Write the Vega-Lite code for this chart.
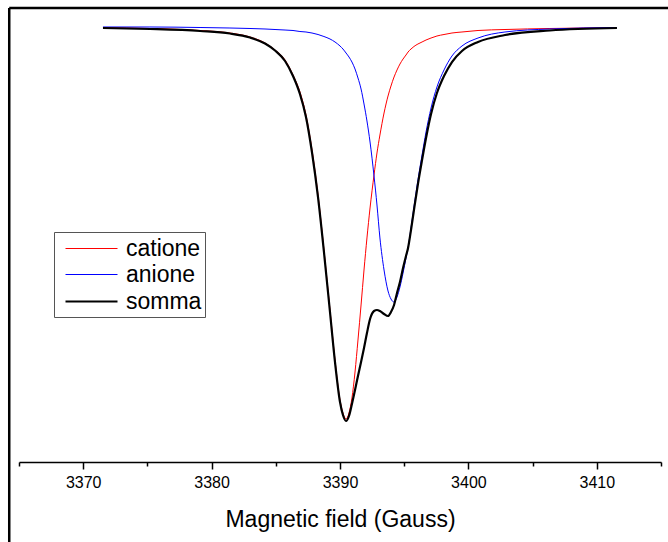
{
  "$schema": "https://vega.github.io/schema/vega-lite/v6.json",
  "width": 642,
  "height": 454,
  "autosize": {"type": "none"},
  "padding": {"left": 19, "top": 8, "right": 7, "bottom": 80},
  "background": "white",
  "config": {"view": {"stroke": null}, "font": "Liberation Sans"},
  "datasets": {
    "spectra": [
      {"B": 3371.54, "catione": 0, "anione": 0.0013, "somma": -0.0013},
      {"B": 3375.20, "catione": -0.0025, "anione": 0.0013, "somma": -0.0038},
      {"B": 3379.10, "catione": -0.0076, "anione": 0, "somma": -0.0089},
      {"B": 3381.43, "catione": -0.0140, "anione": -0.0013, "somma": -0.0152},
      {"B": 3382.99, "catione": -0.0241, "anione": -0.0025, "somma": -0.0254},
      {"B": 3384.16, "catione": -0.0394, "anione": -0.0038, "somma": -0.0407},
      {"B": 3384.94, "catione": -0.0572, "anione": -0.0051, "somma": -0.0584},
      {"B": 3385.72, "catione": -0.0826, "anione": -0.0064, "somma": -0.0851},
      {"B": 3386.34, "catione": -0.1207, "anione": -0.0076, "somma": -0.1233},
      {"B": 3386.88, "catione": -0.1639, "anione": -0.0102, "somma": -0.1690},
      {"B": 3387.35, "catione": -0.2224, "anione": -0.0114, "somma": -0.2274},
      {"B": 3387.82, "catione": -0.3113, "anione": -0.0140, "somma": -0.3177},
      {"B": 3388.29, "catione": -0.4257, "anione": -0.0178, "somma": -0.4320},
      {"B": 3388.75, "catione": -0.5654, "anione": -0.0229, "somma": -0.5705},
      {"B": 3389.22, "catione": -0.7179, "anione": -0.0292, "somma": -0.7230},
      {"B": 3389.61, "catione": -0.8450, "anione": -0.0368, "somma": -0.8501},
      {"B": 3390.00, "catione": -0.9466, "anione": -0.0470, "somma": -0.9517},
      {"B": 3390.23, "catione": -0.9797, "anione": -0.0546, "somma": -0.9848},
      {"B": 3390.47, "catione": -0.9949, "anione": -0.0648, "somma": -1.0000},
      {"B": 3390.70, "catione": -0.9797, "anione": -0.0750, "somma": -0.9873},
      {"B": 3390.93, "catione": -0.9416, "anione": -0.0877, "somma": -0.9568},
      {"B": 3391.17, "catione": -0.8755, "anione": -0.1055, "somma": -0.9212},
      {"B": 3391.40, "catione": -0.7942, "anione": -0.1283, "somma": -0.8856},
      {"B": 3391.64, "catione": -0.7052, "anione": -0.1563, "somma": -0.8501},
      {"B": 3391.87, "catione": -0.6163, "anione": -0.1944, "somma": -0.8145},
      {"B": 3392.10, "catione": -0.5349, "anione": -0.2376, "somma": -0.7764},
      {"B": 3392.34, "catione": -0.4587, "anione": -0.2910, "somma": -0.7408},
      {"B": 3392.65, "catione": -0.3748, "anione": -0.3774, "somma": -0.7205},
      {"B": 3392.88, "catione": -0.3189, "anione": -0.4511, "somma": -0.7179},
      {"B": 3393.11, "catione": -0.2732, "anione": -0.5349, "somma": -0.7205},
      {"B": 3393.43, "catione": -0.2173, "anione": -0.6163, "somma": -0.7281},
      {"B": 3393.74, "catione": -0.1741, "anione": -0.6696, "somma": -0.7332},
      {"B": 3393.97, "catione": -0.1487, "anione": -0.6900, "somma": -0.7230},
      {"B": 3394.21, "catione": -0.1258, "anione": -0.6976, "somma": -0.7052},
      {"B": 3394.44, "catione": -0.1080, "anione": -0.6849, "somma": -0.6747},
      {"B": 3394.67, "catione": -0.0928, "anione": -0.6595, "somma": -0.6468},
      {"B": 3394.91, "catione": -0.0801, "anione": -0.6239, "somma": -0.6112},
      {"B": 3395.14, "catione": -0.0699, "anione": -0.5858, "somma": -0.5807},
      {"B": 3395.30, "catione": -0.0623, "anione": -0.5604, "somma": -0.5604},
      {"B": 3395.53, "catione": -0.0546, "anione": -0.5095, "somma": -0.5146},
      {"B": 3395.76, "catione": -0.0483, "anione": -0.4562, "somma": -0.4638},
      {"B": 3396.07, "catione": -0.0419, "anione": -0.3875, "somma": -0.3977},
      {"B": 3396.39, "catione": -0.0368, "anione": -0.3240, "somma": -0.3367},
      {"B": 3396.70, "catione": -0.0318, "anione": -0.2656, "somma": -0.2808},
      {"B": 3397.09, "catione": -0.0267, "anione": -0.2046, "somma": -0.2198},
      {"B": 3397.55, "catione": -0.0216, "anione": -0.1512, "somma": -0.1665},
      {"B": 3398.10, "catione": -0.0178, "anione": -0.1080, "somma": -0.1233},
      {"B": 3398.72, "catione": -0.0140, "anione": -0.0724, "somma": -0.0877},
      {"B": 3399.50, "catione": -0.0114, "anione": -0.0470, "somma": -0.0597},
      {"B": 3400.75, "catione": -0.0076, "anione": -0.0267, "somma": -0.0368},
      {"B": 3402.85, "catione": -0.0051, "anione": -0.0114, "somma": -0.0191},
      {"B": 3406.35, "catione": -0.0025, "anione": -0.0038, "somma": -0.0076},
      {"B": 3411.57, "catione": 0, "anione": 0, "somma": -0.0013}
    ]
  },
  "resolve": {"axis": {"x": "independent"}},
  "layer": [
    {
      "data": {"name": "spectra"},
      "transform": [{"fold": ["catione", "anione", "somma"], "as": ["serie", "valore"]}],
      "mark": {"type": "line", "interpolate": "monotone"},
      "encoding": {
        "x": {
          "field": "B", "type": "quantitative",
          "scale": {"domain": [3365, 3415], "nice": false, "zero": false},
          "axis": {
            "orient": "bottom", "values": [3370, 3380, 3390, 3400, 3410], "format": "d",
            "title": "Magnetic field (Gauss)", "titleFont": "Liberation Sans", "titleFontSize": 23,
            "titleFontWeight": "normal", "titleColor": "#000", "titlePadding": 18,
            "labelFont": "Liberation Sans", "labelFontSize": 16, "labelColor": "#000", "labelPadding": 5,
            "labelFlush": false, "labelOverlap": false,
            "tickSize": 7, "tickWidth": 1.5, "tickColor": "#000",
            "domainColor": "#000", "domainWidth": 1.5, "grid": false
          }
        },
        "y": {
          "field": "valore", "type": "quantitative",
          "scale": {"domain": [-1.1042, 0.04956], "nice": false, "zero": false},
          "axis": null
        },
        "color": {
          "field": "serie", "type": "nominal",
          "scale": {"domain": ["catione", "anione", "somma"], "range": ["#ff0000", "#0000ff", "#000000"]},
          "legend": {
            "title": null, "orient": "none", "legendX": 35, "legendY": 224,
            "symbolType": "M-2,0H2", "symbolSize": 676, "symbolOffset": 20,
            "labelFont": "Liberation Sans", "labelFontSize": 23, "labelColor": "#000",
            "strokeColor": "#555", "fillColor": "#fff",
            "padding": 3, "rowPadding": 0, "labelOffset": 20,
            "encode": {
              "symbols": {
                "update": {
                  "strokeWidth": {"signal": "datum.value === 'somma' ? 2 : 1.5"},
                  "stroke": {"signal": "datum.value === 'somma' ? '#000000' : datum.value === 'anione' ? '#0000ff' : '#ff0000'"},
                  "fill": {"value": "transparent"}
                }
              }
            }
          }
        },
        "strokeWidth": {
          "field": "serie", "type": "nominal",
          "scale": {"type": "ordinal", "domain": ["catione", "anione", "somma"], "range": [1, 1, 2.2]},
          "legend": null
        }
      }
    },
    {
      "data": {"values": [{}]},
      "mark": {"type": "rule", "color": "#000", "strokeWidth": 2.5},
      "encoding": {
        "x": {
          "datum": 3364.24, "type": "quantitative",
          "axis": {
            "orient": "bottom", "values": [3365, 3375, 3385, 3395, 3405, 3415],
            "labels": false, "title": null, "tickSize": 4, "tickWidth": 1.5,
            "tickColor": "#000", "domain": false, "grid": false
          }
        },
        "y": {"datum": 0.04956, "type": "quantitative"},
        "y2": {"datum": -1.4}
      }
    },
    {
      "data": {"values": [{}]},
      "mark": {"type": "rule", "color": "#000", "strokeWidth": 2.5},
      "encoding": {
        "x": {"datum": 3364.24, "type": "quantitative", "axis": null},
        "x2": {"datum": 3416},
        "y": {"datum": 0.04956, "type": "quantitative"}
      }
    }
  ]
}
